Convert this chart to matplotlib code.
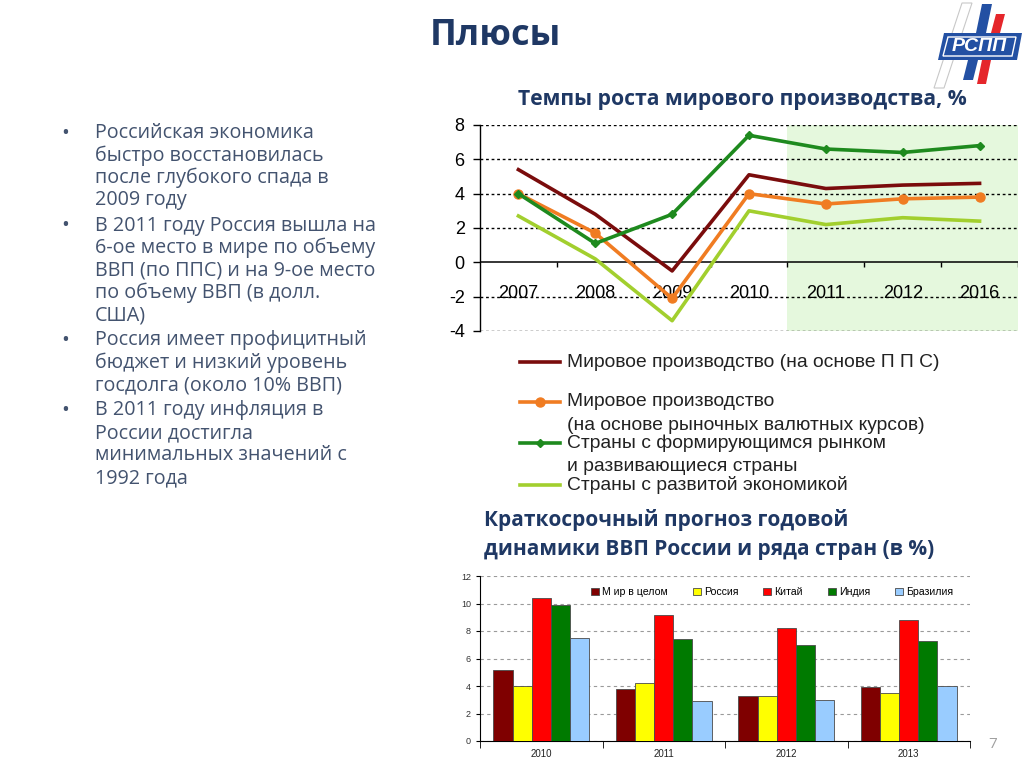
import matplotlib
matplotlib.use('Agg')
import matplotlib.pyplot as plt
from matplotlib.lines import Line2D
from matplotlib.patches import Polygon
import numpy as np

# ---------------- data ----------------
years = ['2007', '2008', '2009', '2010', '2011', '2012', '2016']
world_ppp = [5.4, 2.8, -0.5, 5.1, 4.3, 4.5, 4.6]
world_market = [4.0, 1.7, -2.1, 4.0, 3.4, 3.7, 3.8]
emerging = [4.0, 1.1, 2.8, 7.4, 6.6, 6.4, 6.8]
advanced = [2.7, 0.2, -3.4, 3.0, 2.2, 2.6, 2.4]
line_labels = [
    'Мировое производство (на основе П П С)',
    'Мировое производство\n(на основе рыночных валютных курсов)',
    'Страны с формирующимся рынком\nи развивающиеся страны',
    'Страны с развитой экономикой',
]
forecast_from = '2011'

bar_years = ['2010', '2011', '2012', '2013']
bar_labels = ['М ир в целом', 'Россия', 'Китай', 'Индия', 'Бразилия']
world_bar = [5.2, 3.8, 3.3, 3.9]
russia_bar = [4.0, 4.2, 3.3, 3.5]
china_bar = [10.4, 9.2, 8.2, 8.8]
india_bar = [9.9, 7.4, 7.0, 7.3]
brazil_bar = [7.5, 2.9, 3.0, 4.0]

bullets = [
    ['Российская экономика', 'быстро восстановилась', 'после глубокого спада в', '2009 году'],
    ['В 2011 году Россия вышла на', '6-ое место в мире по объему', 'ВВП (по ППС) и на 9-ое место',
     'по объему ВВП (в долл.', 'США)'],
    ['Россия имеет профицитный', 'бюджет и низкий уровень', 'госдолга (около 10% ВВП)'],
    ['В 2011 году инфляция в', 'России достигла', 'минимальных значений с', '1992 года'],
]

# ---------------- style ----------------
W, H = 1024, 768
fig = plt.figure(figsize=(W / 100, H / 100), dpi=100)
fig.patch.set_facecolor('white')


def fx(x):
    return x / W


def fy(y):
    return 1 - y / H


NAVY = '#1F3864'
TXT = '#43536F'
SANS = ['Open Sans', 'DejaVu Sans']
ARIAL = ['Liberation Sans', 'DejaVu Sans']

line_colors = ['#7A0C0C', '#F07C22', '#1E8A1E', '#A2CF2E']

# ---------------- slide title ----------------
fig.text(fx(495), fy(36), 'Плюсы', ha='center', va='center', fontsize=26,
         fontweight='bold', color=NAVY, family=SANS)

# ---------------- bullets ----------------
y = 133
for group in bullets:
    fig.text(fx(65), fy(y), '•', ha='center', va='center', fontsize=15, color=TXT, family=SANS)
    for line in group:
        fig.text(fx(95), fy(y), line, ha='left', va='center', fontsize=14.2, color=TXT, family=SANS)
        y += 22.5
    y += 2.5

# ---------------- line chart ----------------
fig.text(fx(742), fy(100), 'Темпы роста мирового производства, %', ha='center', va='center',
         fontsize=15.2, fontweight='bold', color=NAVY, family=SANS)

ax1 = fig.add_axes([fx(480), fy(331), 538 / W, 206 / H])
x = np.arange(len(years))
ax1.set_xlim(-0.5, len(years) - 0.5)
ax1.set_ylim(-4, 8)
for s in ['top', 'right', 'bottom']:
    ax1.spines[s].set_visible(False)
ax1.spines['left'].set_color('black')
ax1.spines['left'].set_linewidth(1.0)
yt = np.arange(-4, 9, 2)
ax1.set_yticks(yt)
ax1.set_yticklabels([str(v) for v in yt], family=ARIAL, fontsize=13)
ax1.tick_params(axis='y', direction='out', length=5, width=1, pad=6)
ax1.set_xticks([])
ax1.axvspan(years.index(forecast_from) - 0.5, len(years) - 0.5, color='#E5F8DD', zorder=0, lw=0)
for v in yt:
    if v == 0:
        ax1.axhline(0, color='black', lw=1.1, zorder=1)
    else:
        ax1.axhline(v, color='black', lw=1.0, ls=(0, (2, 2)), zorder=1)
ax1.vlines(np.arange(len(years)) + 0.5, 0, -0.3, color='black', lw=1.0, zorder=1)
for i, yr in enumerate(years):
    ax1.text(i, -1.8, yr, ha='center', va='center', fontsize=13, family=ARIAL, color='black', zorder=2)

ax1.plot(x, advanced, color=line_colors[3], lw=2.6, zorder=3, solid_joinstyle='round')
ax1.plot(x, world_market, color=line_colors[1], lw=2.6, marker='o', ms=6.5, zorder=4)
ax1.plot(x, world_ppp, color=line_colors[0], lw=2.6, zorder=5, solid_joinstyle='round')
ax1.plot(x, emerging, color=line_colors[2], lw=2.6, marker='D', ms=4.5, zorder=6)

# manual legend
leg_y = [362, 402, 443, 485]
markers = [None, 'o', 'D', None]
msizes = [0, 6.5, 4.5, 0]
for yy, lab, col, mk, msz in zip(leg_y, line_labels, line_colors, markers, msizes):
    fig.add_artist(Line2D([fx(520), fx(560)], [fy(yy), fy(yy)], color=col, lw=2.6,
                          transform=fig.transFigure))
    if mk:
        fig.add_artist(Line2D([fx(540)], [fy(yy)], color=col, marker=mk, ms=msz,
                              transform=fig.transFigure))
    for k, part in enumerate(lab.split('\n')):
        fig.text(fx(567), fy(yy + k * 23.5), part, ha='left', va='center', fontsize=13.9,
                 family=ARIAL, color='#222222')

# ---------------- bar chart ----------------
fig.text(fx(484), fy(520), 'Краткосрочный прогноз годовой', ha='left', va='center',
         fontsize=15, fontweight='bold', color=NAVY, family=SANS)
fig.text(fx(484), fy(549), 'динамики ВВП России и ряда стран (в %)', ha='left', va='center',
         fontsize=15, fontweight='bold', color=NAVY, family=SANS)

ax2 = fig.add_axes([fx(480), fy(741), 490 / W, 165 / H])
bx = np.arange(len(bar_years))
series = [world_bar, russia_bar, china_bar, india_bar, brazil_bar]
bar_colors = ['#7F0000', '#FFFF00', '#FF0000', '#007A00', '#99CCFF']
bw = 0.156
for k, (vals, col, lab) in enumerate(zip(series, bar_colors, bar_labels)):
    ax2.bar(bx + (k - 2) * bw, vals, width=bw, color=col, edgecolor='#4A4A4A', lw=0.6,
            label=lab, zorder=3)
ax2.set_xlim(-0.5, len(bar_years) - 0.5)
ax2.set_ylim(0, 12)
ax2.spines['top'].set_visible(False)
ax2.spines['right'].set_visible(False)
ax2.spines['left'].set_linewidth(0.8)
ax2.spines['bottom'].set_linewidth(0.8)
ax2.set_yticks(np.arange(0, 13, 2))
ax2.tick_params(axis='y', labelsize=6.5, length=3, direction='out', labelcolor='#333333')
ax2.set_xticks(bx)
ax2.set_xticklabels(bar_years, fontsize=7, family=ARIAL, color='#222222')
ax2.tick_params(axis='x', length=0, pad=6)
ax2.set_xticks(np.arange(len(bar_years) + 1) - 0.5, minor=True)
ax2.tick_params(axis='x', which='minor', length=5, direction='out')
ax2.yaxis.grid(True, ls=(0, (3, 3)), color='#9A9A9A', lw=0.8, zorder=0)
ax2.set_axisbelow(True)
for t in ax2.get_yticklabels():
    t.set_family(ARIAL)
ax2.legend(loc='upper right', bbox_to_anchor=(0.985, 0.99), ncol=5, frameon=False,
           prop={'family': ARIAL, 'size': 7.6}, handlelength=0.75, handleheight=0.75,
           handletextpad=0.3, columnspacing=2.35)

# page number
fig.text(fx(993), fy(745), '7', ha='center', va='center', fontsize=11, color='#A0A0A0', family=SANS)

# ---------------- logo (approximation) ----------------
BLUE = '#2350A3'
RED = '#E5262B'


def poly(pts, **kw):
    fig.add_artist(Polygon([(fx(a), fy(b)) for a, b in pts], closed=True,
                           transform=fig.transFigure, **kw))


poly([(962, 3), (972, 3), (944, 88), (934, 88)], facecolor='none', edgecolor='#C8C8C8', lw=0.8)
poly([(982, 4), (992, 4), (986, 33), (976, 33)], facecolor=BLUE, edgecolor='none')
poly([(996, 14), (1005, 14), (1000, 33), (991, 33)], facecolor=RED, edgecolor='none')
poly([(968, 60), (978, 60), (973, 80), (963, 80)], facecolor=BLUE, edgecolor='none')
poly([(982, 60), (991, 60), (986, 84), (977, 84)], facecolor=RED, edgecolor='none')
poly([(944, 33), (1022, 33), (1017, 60), (938, 60)], facecolor=BLUE, edgecolor='none')
poly([(948, 37), (1016, 37), (1012, 56), (943, 56)], facecolor='none', edgecolor='white', lw=1.0)
fig.text(fx(979), fy(46.5), 'РСПП', ha='center', va='center', fontsize=14, fontweight='bold',
         fontstyle='italic', color='white', family=ARIAL)

fig.savefig('out.png', dpi=100, facecolor='white')
